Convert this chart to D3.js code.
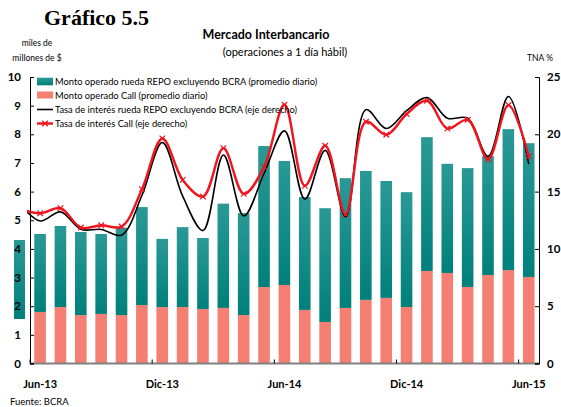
<!DOCTYPE html>
<html>
<head>
<meta charset="utf-8">
<script src="https://cdnjs.cloudflare.com/ajax/libs/d3/7.8.5/d3.min.js"></script>
<style>
  body { margin: 0; background: #fff; }
  svg text { font-family: Lato, "Open Sans", sans-serif; fill: #000; }
</style>
</head>
<body>
<div id="root"></div>
<script>
// months (May-13 only carries the start of the rate lines, clipped at the axis)
var months = ["May-13", "Jun-13", "Jul-13", "Ago-13", "Sep-13", "Oct-13", "Nov-13", "Dic-13",
  "Ene-14", "Feb-14", "Mar-14", "Abr-14", "May-14", "Jun-14", "Jul-14", "Ago-14", "Sep-14",
  "Oct-14", "Nov-14", "Dic-14", "Ene-15", "Feb-15", "Mar-15", "Abr-15", "May-15", "Jun-15"];
var barMonths = months.slice(1);
var tickMonths = ["Jun-13", "Dic-13", "Jun-14", "Dic-14", "Jun-15"];
var leftTicks = [0, 1, 2, 3, 4, 5, 6, 7, 8, 9, 10];
var rightTicks = [0, 5, 10, 15, 20, 25];

// miles de millones de $ (promedio diario)
var montoCall = [1.80, 1.97, 1.69, 1.73, 1.69, 2.04, 1.97, 1.97, 1.90, 1.94, 1.69, 2.67, 2.74,
  1.87, 1.45, 1.94, 2.22, 2.29, 1.97, 3.23, 3.16, 2.67, 3.09, 3.26, 3.02];
var montoRepo = [2.72, 2.83, 2.90, 2.79, 3.05, 3.42, 2.38, 2.79, 2.48, 3.64, 3.56, 4.92, 4.33,
  3.94, 3.97, 4.53, 4.50, 4.08, 4.01, 4.67, 3.81, 4.15, 4.15, 4.92, 4.67];

// TNA %
var tasaRepo = [13.9, 12.44, 13.23, 11.71, 11.7, 11.2, 14.68, 19.29, 14.6, 11.6, 18.2, 12.88, 16.6,
  20.3, 14.34, 18.6, 12.8, 22.15, 20.5, 22.06, 23.2, 21.4, 21.4, 18.07, 23.3, 17.4];
var tasaCall = [13.5, 13.11, 13.55, 11.86, 12.06, 11.95, 15.21, 19.64, 16.02, 14.57, 18.79, 14.80, 17.16,
  22.58, 15.5, 19.0, 13.02, 21.1, 19.96, 21.77, 22.93, 20.5, 21.27, 17.83, 22.55, 18.07];

var legendLabels = [
  "Monto operado rueda REPO excluyendo BCRA (promedio diario)",
  "Monto operado Call (promedio diario)",
  "Tasa de interés rueda REPO excluyendo BCRA (eje derecho)",
  "Tasa de interés Call (eje derecho)"
];

var w = 561;
var h = 407;
var margin = { top: 77, right: 22, bottom: 43.5, left: 30 };
var plotRight = w - margin.right;
var plotBottom = h - margin.bottom;

var tealTop = "#2a9996";
var tealBottom = "#00807b";
var salmon = "#f47f72";
var red = "#f0141e";

var svg = d3.select("#root").append("svg").attr("width", w).attr("height", h);

var defs = svg.append("defs");
var grad = defs.append("linearGradient").attr("id", "teal").attr("x1", 0).attr("y1", 0).attr("x2", 0).attr("y2", 1);
grad.append("stop").attr("offset", "0%").attr("stop-color", tealTop);
grad.append("stop").attr("offset", "100%").attr("stop-color", tealBottom);
defs.append("clipPath").attr("id", "clip").append("rect")
  .attr("x", 27).attr("y", 0).attr("width", plotRight - 27).attr("height", h);

// scales: one band per month, first band sits left of the axis
var step = (plotRight - margin.left) / barMonths.length;
var xScale = d3.scaleBand().domain(months).range([margin.left - step, plotRight]).padding(0);
var yLeft = d3.scaleLinear().domain([0, 10]).range([plotBottom, margin.top]);
var yRight = d3.scaleLinear().domain([0, 25]).range([plotBottom, margin.top]);
var bw = xScale.bandwidth();

// titles
svg.append("text").attr("x", 44).attr("y", 25).style("font-family", "'Liberation Serif', serif")
  .style("font-weight", "bold").style("font-size", "22px").text("Gráfico 5.5");
svg.append("text").attr("x", 266).attr("y", 39).attr("text-anchor", "middle")
  .style("font-weight", "bold").style("font-size", "12.5px").text("Mercado Interbancario");
svg.append("text").attr("x", 285).attr("y", 56).attr("text-anchor", "middle")
  .style("font-size", "11px").text("(operaciones a 1 día hábil)");
svg.append("text").attr("x", 37).attr("y", 46).attr("text-anchor", "middle")
  .style("font-size", "8.5px").text("miles de");
svg.append("text").attr("x", 37).attr("y", 61).attr("text-anchor", "middle")
  .style("font-size", "8.5px").text("millones de $");
svg.append("text").attr("x", 553).attr("y", 61).attr("text-anchor", "end")
  .style("font-size", "8.5px").text("TNA %");
svg.append("text").attr("x", 10).attr("y", 405).style("font-size", "9.5px").text("Fuente: BCRA");

// stray teal block left of the axis
svg.append("rect").attr("x", 14).attr("y", 240).attr("width", 11).attr("height", 79).attr("fill", "url(#teal)");

// bars: Call at the bottom, REPO stacked on top
var bars = svg.append("g");
bars.selectAll(".call").data(barMonths).enter().append("rect")
  .attr("x", function(d) { return xScale(d) + bw * 0.21; })
  .attr("width", bw * 0.57)
  .attr("y", function(d, i) { return yLeft(montoCall[i]); })
  .attr("height", function(d, i) { return yLeft(0) - yLeft(montoCall[i]); })
  .attr("fill", salmon);
bars.selectAll(".repo").data(barMonths).enter().append("rect")
  .attr("x", function(d) { return xScale(d) + bw * 0.21; })
  .attr("width", bw * 0.57)
  .attr("y", function(d, i) { return yLeft(montoCall[i] + montoRepo[i]); })
  .attr("height", function(d, i) { return yLeft(montoCall[i]) - yLeft(montoCall[i] + montoRepo[i]); })
  .attr("fill", "url(#teal)");

// axes
var xAxisY = plotBottom;
svg.append("line").attr("x1", margin.left).attr("x2", plotRight + 1).attr("y1", xAxisY).attr("y2", xAxisY)
  .attr("stroke", "#808080").attr("stroke-width", 2);
svg.selectAll(".xtick").data(tickMonths).enter().append("line")
  .attr("x1", function(d) { return xScale(d); }).attr("x2", function(d) { return xScale(d); })
  .attr("y1", xAxisY - 4).attr("y2", xAxisY).attr("stroke", "#000");
svg.selectAll(".xlab").data(tickMonths).enter().append("text")
  .attr("x", function(d) { return xScale(d) + bw / 2; }).attr("y", 388)
  .attr("text-anchor", "middle").style("font-weight", "bold").style("font-size", "11px")
  .text(function(d) { return d; });

var yAxisL = d3.axisLeft(yLeft).tickValues(leftTicks).tickSize(-4).tickPadding(9).tickFormat(d3.format("d"));
var gl = svg.append("g").attr("transform", "translate(" + margin.left + ",0)").call(yAxisL);
var yAxisR = d3.axisRight(yRight).tickValues(rightTicks).tickSize(-4).tickPadding(8).tickFormat(d3.format("d"));
var gr = svg.append("g").attr("transform", "translate(" + plotRight + ",0)").call(yAxisR);
[gl, gr].forEach(function(g) {
  g.select(".domain").attr("stroke", "#000");
  g.selectAll("line").attr("stroke", "#000");
  g.selectAll("text").style("font-family", "Lato, sans-serif").style("font-weight", "bold").style("font-size", "11.5px");
});

// rate lines
var line = d3.line().curve(d3.curveCatmullRom.alpha(0.5))
  .x(function(d, i) { return xScale(months[i]) + bw / 2; })
  .y(function(d) { return yRight(d); });
var lines = svg.append("g").attr("clip-path", "url(#clip)");
lines.append("path").datum(tasaRepo).attr("d", line).attr("fill", "none")
  .attr("stroke", "#000").attr("stroke-width", 1.6);
lines.append("path").datum(tasaCall).attr("d", line).attr("fill", "none")
  .attr("stroke", red).attr("stroke-width", 2.4);
var marker = d3.symbol().type(d3.symbolTimes).size(22);
lines.selectAll(".mk").data(tasaCall.slice(1)).enter().append("path")
  .attr("d", marker)
  .attr("transform", function(d, i) { return "translate(" + (xScale(barMonths[i]) + bw / 2) + "," + yRight(d) + ")"; })
  .attr("fill", "none").attr("stroke", red).attr("stroke-width", 1.2);

// legend
var leg = svg.append("g");
var legY = [81.5, 95, 109.5, 123.5];
leg.append("rect").attr("x", 37).attr("y", legY[0] - 3.8).attr("width", 16).attr("height", 7.6).attr("fill", "url(#teal)");
leg.append("rect").attr("x", 37).attr("y", legY[1] - 3.5).attr("width", 16).attr("height", 7).attr("fill", salmon);
leg.append("line").attr("x1", 37).attr("x2", 53).attr("y1", legY[2]).attr("y2", legY[2]).attr("stroke", "#000").attr("stroke-width", 1.6);
leg.append("line").attr("x1", 37).attr("x2", 53).attr("y1", legY[3]).attr("y2", legY[3]).attr("stroke", red).attr("stroke-width", 2.4);
leg.append("path").attr("d", marker).attr("transform", "translate(45," + legY[3] + ")")
  .attr("fill", "none").attr("stroke", red).attr("stroke-width", 1.2);
leg.selectAll(".lt").data(legendLabels).enter().append("text")
  .attr("x", 55).attr("y", function(d, i) { return legY[i] + 3.5; })
  .style("font-size", "9.3px").text(function(d) { return d; });
</script>
</body>
</html>
